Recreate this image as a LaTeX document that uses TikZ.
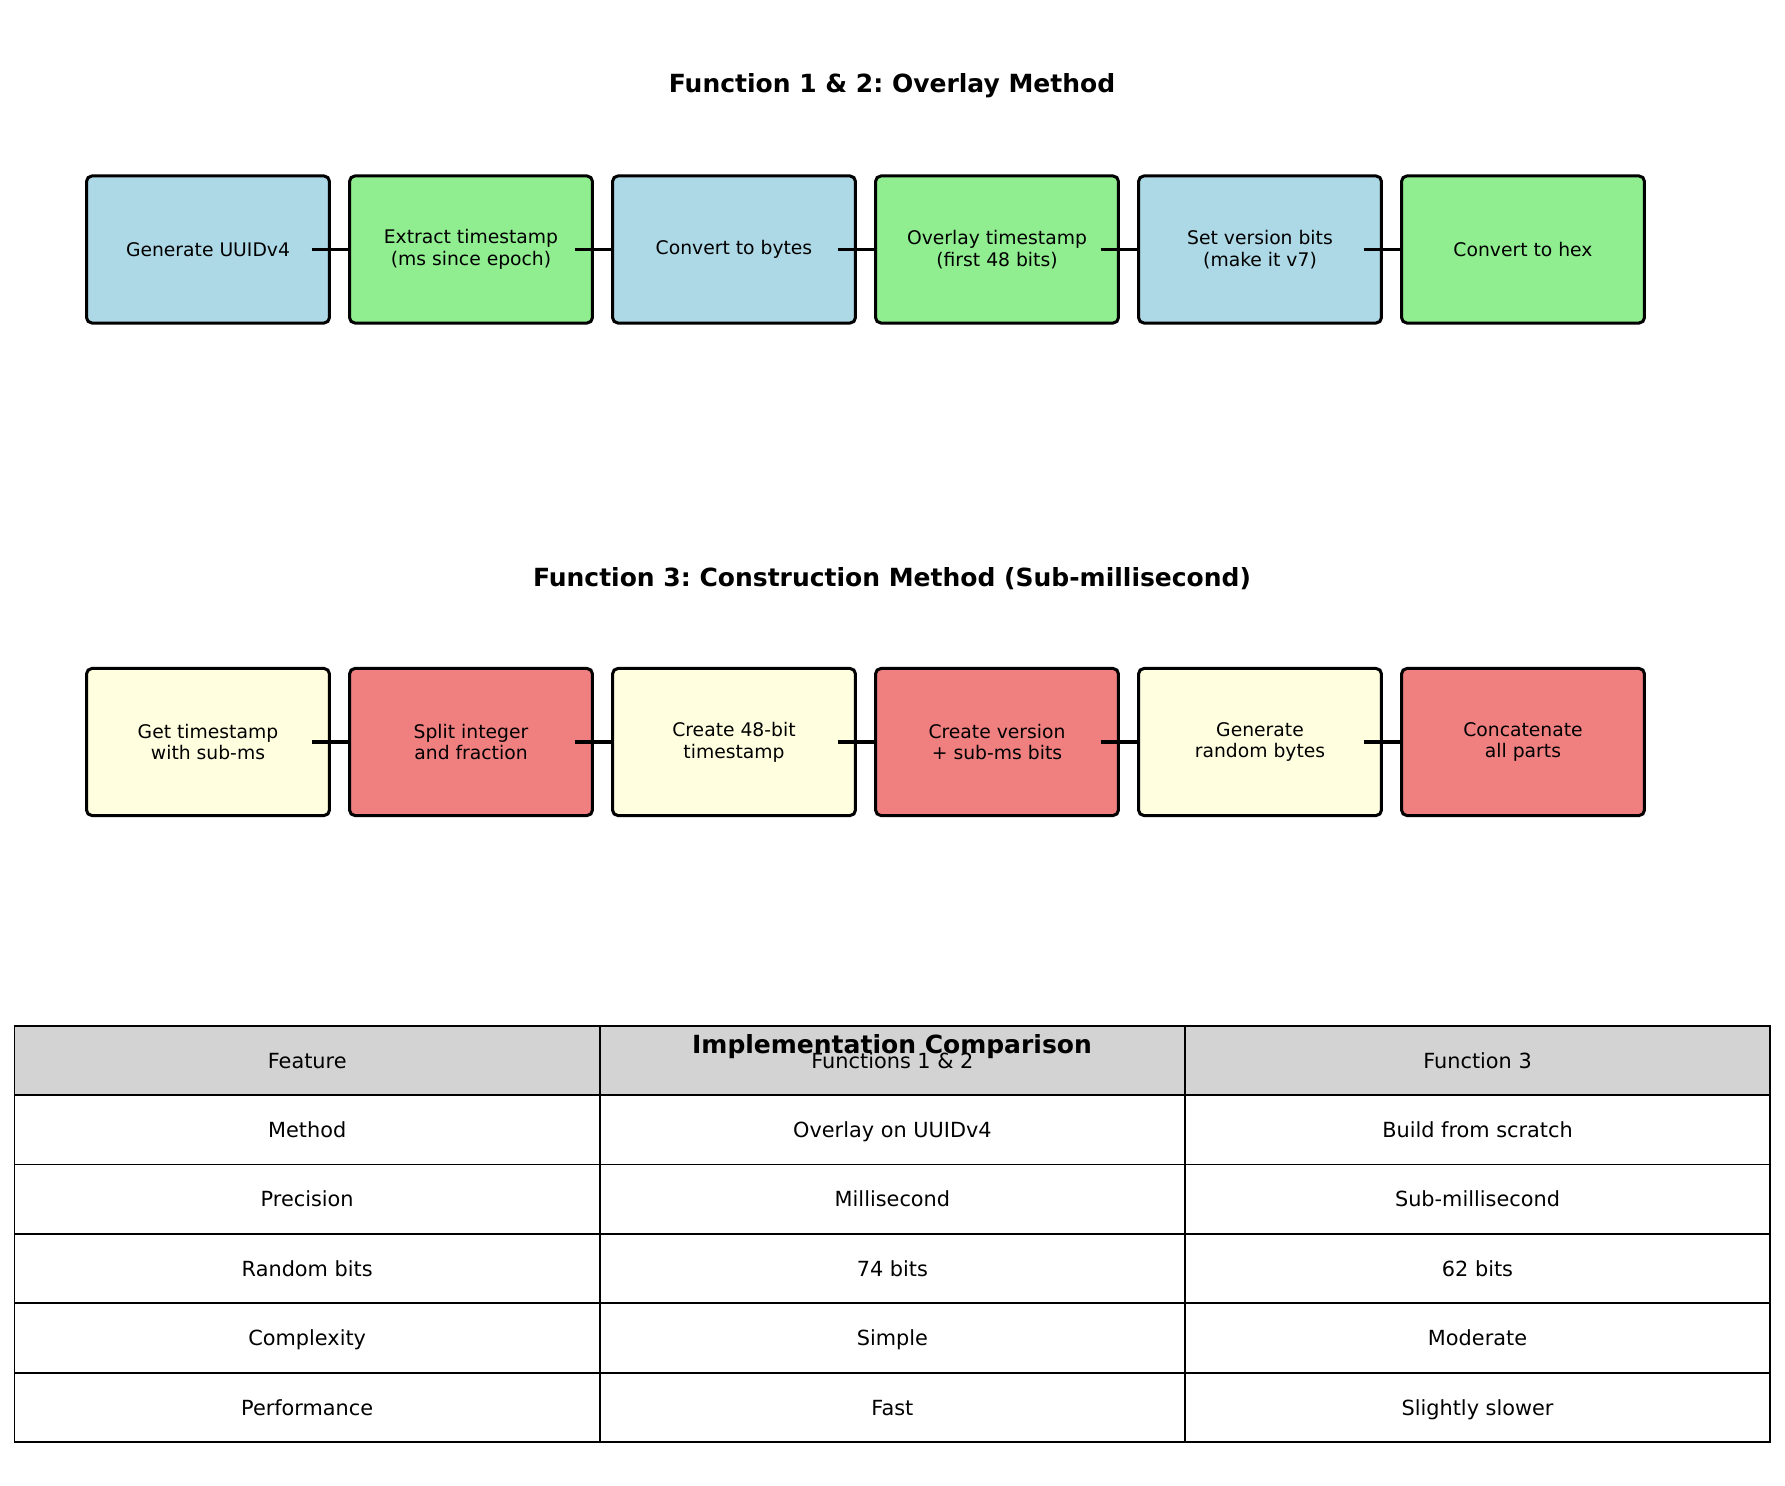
\documentclass[tikz,border=0pt]{standalone}
\usepackage{fontspec}
\setmainfont{DejaVu Sans}
\frenchspacing
\definecolor{lblue}{HTML}{ADD8E6}
\definecolor{lgreen}{HTML}{90EE90}
\definecolor{lyellow}{HTML}{FFFFE0}
\definecolor{lcoral}{HTML}{F08080}
\definecolor{lgray}{HTML}{D3D3D3}
\tikzset{
  stepbox/.style={draw=black, line width=1.45pt, rounded corners=2.6pt,
    minimum width=116.6pt, minimum height=70.6pt, inner sep=0pt, outer sep=0pt,
    align=center, font=\fontsize{9}{10.4}\selectfont},
  conn/.style={draw=black, line width=1.45pt},
  ttl/.style={font=\fontsize{12}{14}\selectfont\bfseries, inner sep=0pt},
  cell/.style={draw=black, line width=0.8pt, minimum width=280.85pt, minimum height=33.3pt,
    inner sep=0pt, outer sep=0pt, text height=0.87em, text depth=0.13em,
    font=\fontsize{10}{12}\selectfont},
  hcell/.style={cell, fill=lgray},
}
\begin{document}
\begin{tikzpicture}[x=0.48pt,y=-0.48pt]
\useasboundingbox (0,0) rectangle (1785,1485);
\fill[white] (0,0) rectangle (1785,1485);

% Titles
\node[ttl] (t1) at (892,86) {Function 1 \& 2: Overlay Method};
\node[ttl] (t2) at (892,579) {Function 3: Construction Method (Sub-millisecond)};

% Row 1
\node[stepbox, fill=lblue]  (a1) at (208,249.5)  {Generate UUIDv4};
\node[stepbox, fill=lgreen] (a2) at (471,249.5)  {Extract timestamp\\(ms since epoch)};
\node[stepbox, fill=lblue]  (a3) at (734,249.5)  {Convert to bytes};
\node[stepbox, fill=lgreen] (a4) at (997,249.5)  {Overlay timestamp\\(first 48 bits)};
\node[stepbox, fill=lblue]  (a5) at (1260,249.5) {Set version bits\\(make it v7)};
\node[stepbox, fill=lgreen] (a6) at (1523,249.5) {Convert to hex};

% Row 2
\node[stepbox, fill=lyellow] (b1) at (208,742)  {Get timestamp\\with sub-ms};
\node[stepbox, fill=lcoral]  (b2) at (471,742)  {Split integer\\and fraction};
\node[stepbox, fill=lyellow] (b3) at (734,742)  {Create 48-bit\\timestamp};
\node[stepbox, fill=lcoral]  (b4) at (997,742)  {Create version\\+ sub-ms bits};
\node[stepbox, fill=lyellow] (b5) at (1260,742) {Generate\\random bytes};
\node[stepbox, fill=lcoral]  (b6) at (1523,742) {Concatenate\\all parts};

% Connectors
\foreach \i/\j in {1/2,2/3,3/4,4/5,5/6}{
  \draw[conn] ([xshift=-8.6pt]a\i.east) -- (a\j.west);
  \draw[conn] ([xshift=-8.6pt]b\i.east) -- (b\j.west);
}

% Table
\node[hcell] (h1) at (307.2,1060.4) {Feature};
\node[hcell] (h2) at (892.4,1060.4) {Functions 1 \& 2};
\node[hcell] (h3) at (1477.5,1060.4) {Function 3};
\foreach \r/\ya/\yb/\yc [count=\k] in {
  Method/Overlay on UUIDv4/Build from scratch/1129.8,
  Precision/Millisecond/Sub-millisecond/1199.2,
  Random bits/74 bits/62 bits/1268.6,
  Complexity/Simple/Moderate/1338.0,
  Performance/Fast/Slightly slower/1407.4}{
  \node[cell] (r\k c1) at (307.2,\yc) {\r};
  \node[cell] (r\k c2) at (892.4,\yc) {\ya};
  \node[cell] (r\k c3) at (1477.5,\yc) {\yb};
}
\node[ttl] (t3) at (892,1047) {Implementation Comparison};
\end{tikzpicture}
\end{document}
